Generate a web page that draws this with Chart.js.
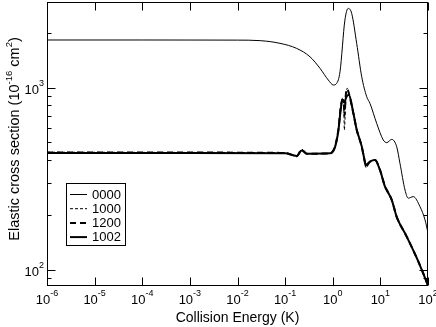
<!DOCTYPE html>
<html>
<head>
<meta charset="utf-8">
<script src="https://cdn.jsdelivr.net/npm/chart.js@4.4.0/dist/chart.umd.min.js"></script>
<style>
  html, body { margin: 0; padding: 0; background: #fff; }
  #wrap { width: 436px; height: 327px; }
</style>
</head>
<body>
<div id="wrap"><canvas id="chart" width="436" height="327"></canvas></div>
<script>
// energies (K) and elastic cross sections (1e-16 cm^2)
const energyTop = [1e-6, 1e-4, 1e-3, 0.01, 0.03, 0.078, 0.175, 0.333, 0.54, 0.807, 1.03, 1.21, 1.42, 1.80, 2.12, 2.50, 3.18, 4.06, 5.16, 6.05, 8.37, 11.5, 13.6, 17.3, 22.0, 25.8, 32.9, 38.5, 49.1, 67.9, 86.5, 100];
const sigma0000 = [1830, 1830, 1829, 1827, 1815, 1754, 1645, 1479, 1278, 1102, 1035, 1057, 1224, 2355, 2730, 2560, 1754, 1149, 893, 820, 637, 516, 499, 520, 474, 384, 274, 247, 252, 222, 188, 159];

const energyLow = [1e-6, 1e-3, 0.1, 0.175, 0.223, 0.284, 0.875, 1.11, 1.31, 1.47, 1.59, 1.72, 1.75, 1.90, 2.02, 2.19, 2.70, 3.18, 4.06, 4.76, 4.92, 6.05, 7.71, 9.82, 12.5, 13.6, 17.3, 22.0, 35.7, 58.0, 79.6, 100];
const sigma1000 = [442, 441, 439, 418, 460, 433, 436, 474, 586, 787, 875, 723, 586, 932, 993, 930, 723, 586, 474, 384, 362, 392, 401, 353, 286, 274, 242, 195, 152, 116, 95.5, 82];
const sigma1200 = [440, 440, 438, 420, 456, 434, 436, 474, 586, 780, 860, 800, 700, 940, 985, 925, 725, 588, 474, 386, 370, 392, 400, 353, 287, 274, 242, 195, 152, 116, 95.5, 82];
const sigma1002 = [438, 438, 437, 422, 452, 434, 436, 470, 580, 760, 860, 840, 830, 880, 905, 912, 730, 590, 476, 388, 375, 393, 400, 352, 286, 274, 242, 195, 152, 116, 95, 81.5];

const xDecades = [-6, -5, -4, -3, -2, -1, 0, 1, 2];
const yMajor = [100, 1000];
const yMinor = [90, 200, 300, 400, 500, 600, 700, 800, 900, 2000];

function pts(xs, ys) {
    return xs.map((x, i) => ({ x: x, y: ys[i] }));
}

const FONT = '"Liberation Sans", Arial, Helvetica, sans-serif';

// axes, ticks, superscript labels, titles and legend drawn on the library's scales
const framePlugin = {
    id: 'framePlugin',
    afterDraw(chart) {
        const ctx = chart.ctx;
        const a = chart.chartArea;
        const xs = chart.scales.x;
        const ys = chart.scales.y;
        const L = Math.round(a.left) + 0.5, R = Math.round(a.right) - 0.5;
        const T = Math.round(a.top) + 0.5, B = Math.round(a.bottom) - 0.5;

        ctx.save();
        ctx.strokeStyle = '#000';
        ctx.fillStyle = '#000';
        ctx.lineWidth = 1;
        ctx.setLineDash([]);
        ctx.strokeRect(L, T, R - L, B - T);

        // x ticks
        ctx.beginPath();
        xDecades.forEach(e => {
            const px = Math.round(xs.getPixelForValue(Math.pow(10, e))) + 0.5;
            ctx.moveTo(px, B); ctx.lineTo(px, B - 8);
            ctx.moveTo(px, T); ctx.lineTo(px, T + 8);
        });
        // y ticks
        yMajor.forEach(v => {
            const py = Math.round(ys.getPixelForValue(v)) + 0.5;
            ctx.moveTo(L, py); ctx.lineTo(L + 8, py);
            ctx.moveTo(R, py); ctx.lineTo(R - 8, py);
        });
        yMinor.forEach(v => {
            const py = Math.round(ys.getPixelForValue(v)) + 0.5;
            ctx.moveTo(L, py); ctx.lineTo(L + 4, py);
            ctx.moveTo(R, py); ctx.lineTo(R - 4, py);
        });
        ctx.stroke();

        // tick labels 10^n
        ctx.textBaseline = 'alphabetic';
        ctx.textAlign = 'left';
        function power(exp, x, y, anchor) {
            ctx.font = '13px ' + FONT;
            const w1 = ctx.measureText('10').width;
            ctx.font = '9px ' + FONT;
            const w2 = ctx.measureText(exp).width;
            const x0 = anchor === 'center' ? x - (w1 + w2) / 2 : x - (w1 + w2);
            ctx.font = '13px ' + FONT;
            ctx.fillText('10', x0, y);
            ctx.font = '9px ' + FONT;
            ctx.fillText(exp, x0 + w1, y - 8);
        }
        xDecades.forEach(e => {
            power(String(e), xs.getPixelForValue(Math.pow(10, e)), 304, 'center');
        });
        yMajor.forEach(v => {
            power(String(Math.round(Math.log10(v))), a.left - 3, ys.getPixelForValue(v) + 6, 'right');
        });

        // x title
        ctx.font = '14px ' + FONT;
        ctx.textAlign = 'center';
        ctx.fillText('Collision Energy (K)', (a.left + a.right) / 2, 322);

        // y title with superscripts
        const parts = [
            ['Elastic cross section (10', 14.5, 0],
            ['-16', 9.5, -7],
            [' cm', 14.5, 0],
            ['2', 9.5, -7],
            [')', 14.5, 0]
        ];
        ctx.textAlign = 'left';
        let total = 0;
        parts.forEach(p => { ctx.font = p[1] + 'px ' + FONT; p.push(ctx.measureText(p[0]).width); total += p[3]; });
        ctx.translate(19, 139);
        ctx.rotate(-Math.PI / 2);
        let cx = -total / 2;
        parts.forEach(p => {
            ctx.font = p[1] + 'px ' + FONT;
            ctx.fillText(p[0], cx, p[2]);
            cx += p[3];
        });
        ctx.setTransform(1, 0, 0, 1, 0, 0);

        // legend
        ctx.strokeRect(66.5, 183.5, 59, 62);
        ctx.font = '13px ' + FONT;
        ctx.textBaseline = 'middle';
        chart.data.datasets.forEach((ds, i) => {
            const y = 194.5 + i * 14.2;
            ctx.beginPath();
            ctx.lineWidth = ds.borderWidth;
            ctx.setLineDash(ds.borderDash || []);
            ctx.moveTo(70, y);
            ctx.lineTo(87, y);
            ctx.stroke();
            ctx.setLineDash([]);
            ctx.fillText(ds.label, 92, y + 0.5);
        });
        ctx.restore();
    }
};

const common = {
    showLine: true,
    pointRadius: 0,
    borderColor: '#000',
    backgroundColor: '#000',
    cubicInterpolationMode: 'monotone',
    fill: false
};

new Chart(document.getElementById('chart').getContext('2d'), {
    type: 'scatter',
    data: {
        datasets: [
            Object.assign({ label: '0000', data: pts(energyTop, sigma0000), borderWidth: 1 }, common),
            Object.assign({ label: '1000', data: pts(energyLow, sigma1000), borderWidth: 1, borderDash: [3, 2] }, common),
            Object.assign({ label: '1200', data: pts(energyLow, sigma1200), borderWidth: 2, borderDash: [6, 4] }, common),
            Object.assign({ label: '1002', data: pts(energyLow, sigma1002), borderWidth: 2 }, common)
        ]
    },
    options: {
        responsive: false,
        animation: false,
        layout: { padding: { left: 47, right: 8, top: 2, bottom: 41 } },
        plugins: { legend: { display: false }, tooltip: { enabled: false } },
        scales: {
            x: { type: 'logarithmic', min: 1e-6, max: 100, display: false },
            y: { type: 'logarithmic', min: 81.3, max: 2960, display: false }
        }
    },
    plugins: [framePlugin]
});
</script>
</body>
</html>
